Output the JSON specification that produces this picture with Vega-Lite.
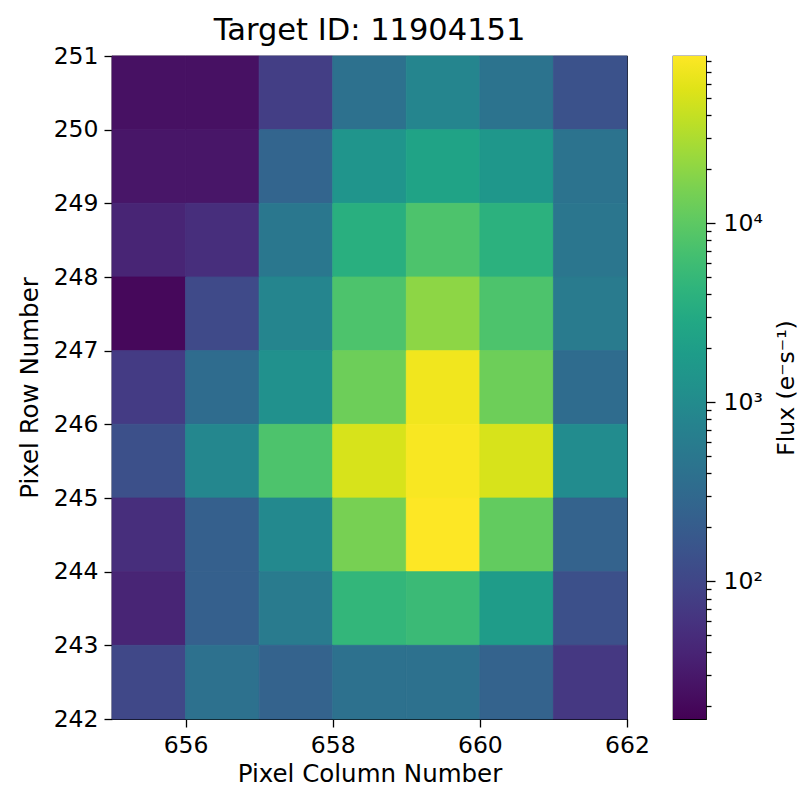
{
  "$schema": "https://vega.github.io/schema/vega-lite/v6.json",
  "padding": {"left": 16, "top": 14, "right": 2, "bottom": 2},
  "bounds": "flush",
  "spacing": 46,
  "config": {
    "view": {"stroke": "#000", "strokeWidth": 1.2},
    "font": "DejaVu Sans",
    "axis": {
      "domain": false, "grid": false,
      "tickColor": "#000", "tickWidth": 1.3, "tickSize": 8,
      "labelColor": "#000", "titleColor": "#000",
      "labelFont": "DejaVu Sans", "titleFont": "DejaVu Sans",
      "labelFontSize": 23.5, "titleFontSize": 24.5, "titleFontWeight": "normal",
      "labelPadding": 6, "labelFlush": false, "labelOverlap": false
    },
    "title": {"font": "DejaVu Sans", "fontSize": 30.5, "fontWeight": "normal", "color": "#000", "offset": -2}
  },
  "hconcat": [
    {
      "title": {"text": "Target ID: 11904151"},
      "width": 515,
      "height": 663,
      "data": {"values": [
        {"c": 655, "c2": 656, "r": 250, "r2": 251, "flux": 24},
        {"c": 656, "c2": 657, "r": 250, "r2": 251, "flux": 24},
        {"c": 657, "c2": 658, "r": 250, "r2": 251, "flux": 79},
        {"c": 658, "c2": 659, "r": 250, "r2": 251, "flux": 400},
        {"c": 659, "c2": 660, "r": 250, "r2": 251, "flux": 790},
        {"c": 660, "c2": 661, "r": 250, "r2": 251, "flux": 436},
        {"c": 661, "c2": 662, "r": 250, "r2": 251, "flux": 144},
        {"c": 655, "c2": 656, "r": 249, "r2": 250, "flux": 27},
        {"c": 656, "c2": 657, "r": 249, "r2": 250, "flux": 27},
        {"c": 657, "c2": 658, "r": 249, "r2": 250, "flux": 261},
        {"c": 658, "c2": 659, "r": 249, "r2": 250, "flux": 1435},
        {"c": 659, "c2": 660, "r": 249, "r2": 250, "flux": 2393},
        {"c": 660, "c2": 661, "r": 249, "r2": 250, "flux": 1563},
        {"c": 661, "c2": 662, "r": 249, "r2": 250, "flux": 436},
        {"c": 655, "c2": 656, "r": 248, "r2": 249, "flux": 40},
        {"c": 656, "c2": 657, "r": 248, "r2": 249, "flux": 52},
        {"c": 657, "c2": 658, "r": 248, "r2": 249, "flux": 500},
        {"c": 658, "c2": 659, "r": 248, "r2": 249, "flux": 3660},
        {"c": 659, "c2": 660, "r": 248, "r2": 249, "flux": 7890},
        {"c": 660, "c2": 661, "r": 248, "r2": 249, "flux": 3990},
        {"c": 661, "c2": 662, "r": 248, "r2": 249, "flux": 474},
        {"c": 655, "c2": 656, "r": 247, "r2": 248, "flux": 20},
        {"c": 656, "c2": 657, "r": 247, "r2": 248, "flux": 111},
        {"c": 657, "c2": 658, "r": 247, "r2": 248, "flux": 790},
        {"c": 658, "c2": 659, "r": 247, "r2": 248, "flux": 7890},
        {"c": 659, "c2": 660, "r": 247, "r2": 248, "flux": 20140},
        {"c": 660, "c2": 661, "r": 247, "r2": 248, "flux": 7890},
        {"c": 661, "c2": 662, "r": 247, "r2": 248, "flux": 562},
        {"c": 655, "c2": 656, "r": 246, "r2": 247, "flux": 73},
        {"c": 656, "c2": 657, "r": 246, "r2": 247, "flux": 337},
        {"c": 657, "c2": 658, "r": 246, "r2": 247, "flux": 1211},
        {"c": 658, "c2": 659, "r": 246, "r2": 247, "flux": 13000},
        {"c": 659, "c2": 660, "r": 246, "r2": 247, "flux": 72300},
        {"c": 660, "c2": 661, "r": 246, "r2": 247, "flux": 13000},
        {"c": 661, "c2": 662, "r": 246, "r2": 247, "flux": 337},
        {"c": 655, "c2": 656, "r": 245, "r2": 246, "flux": 132},
        {"c": 656, "c2": 657, "r": 245, "r2": 246, "flux": 870},
        {"c": 657, "c2": 658, "r": 245, "r2": 246, "flux": 7890},
        {"c": 658, "c2": 659, "r": 245, "r2": 246, "flux": 51400},
        {"c": 659, "c2": 660, "r": 245, "r2": 246, "flux": 80000},
        {"c": 660, "c2": 661, "r": 245, "r2": 246, "flux": 51400},
        {"c": 661, "c2": 662, "r": 245, "r2": 246, "flux": 1020},
        {"c": 655, "c2": 656, "r": 244, "r2": 245, "flux": 52},
        {"c": 656, "c2": 657, "r": 244, "r2": 245, "flux": 220},
        {"c": 657, "c2": 658, "r": 244, "r2": 245, "flux": 937},
        {"c": 658, "c2": 659, "r": 244, "r2": 245, "flux": 15000},
        {"c": 659, "c2": 660, "r": 244, "r2": 245, "flux": 85700},
        {"c": 660, "c2": 661, "r": 244, "r2": 245, "flux": 11090},
        {"c": 661, "c2": 662, "r": 244, "r2": 245, "flux": 240},
        {"c": 655, "c2": 656, "r": 243, "r2": 244, "flux": 40},
        {"c": 656, "c2": 657, "r": 243, "r2": 244, "flux": 220},
        {"c": 657, "c2": 658, "r": 243, "r2": 244, "flux": 562},
        {"c": 658, "c2": 659, "r": 243, "r2": 244, "flux": 4732},
        {"c": 659, "c2": 660, "r": 243, "r2": 244, "flux": 5610},
        {"c": 660, "c2": 661, "r": 243, "r2": 244, "flux": 1854},
        {"c": 661, "c2": 662, "r": 243, "r2": 244, "flux": 132},
        {"c": 655, "c2": 656, "r": 242, "r2": 243, "flux": 104},
        {"c": 656, "c2": 657, "r": 242, "r2": 243, "flux": 400},
        {"c": 657, "c2": 658, "r": 242, "r2": 243, "flux": 240},
        {"c": 658, "c2": 659, "r": 242, "r2": 243, "flux": 400},
        {"c": 659, "c2": 660, "r": 242, "r2": 243, "flux": 400},
        {"c": 660, "c2": 661, "r": 242, "r2": 243, "flux": 240},
        {"c": 661, "c2": 662, "r": 242, "r2": 243, "flux": 67}
      ]},
      "mark": {"type": "rect", "strokeWidth": 0.8},
      "encoding": {
        "x": {
          "field": "c", "type": "quantitative",
          "scale": {"domain": [655, 662], "nice": false, "zero": false},
          "axis": {"values": [656, 658, 660, 662], "title": "Pixel Column Number", "titlePadding": 6}
        },
        "x2": {"field": "c2"},
        "y": {
          "field": "r", "type": "quantitative",
          "scale": {"domain": [242, 251], "nice": false, "zero": false},
          "axis": {"values": [242, 243, 244, 245, 246, 247, 248, 249, 250, 251], "title": "Pixel Row Number", "titlePadding": 11}
        },
        "y2": {"field": "r2"},
        "color": {
          "field": "flux", "type": "quantitative",
          "scale": {"type": "log", "domain": [17, 85700], "scheme": "viridis"},
          "legend": null
        },
        "stroke": {
          "field": "flux", "type": "quantitative",
          "scale": {"type": "log", "domain": [17, 85700], "scheme": "viridis"},
          "legend": null
        }
      }
    },
    {
      "width": 33,
      "height": 663,
      "data": {"values": [{"lo": 17, "hi": 85700}]},
      "mark": {
        "type": "rect",
        "fill": {
          "gradient": "linear", "x1": 0, "y1": 1, "x2": 0, "y2": 0,
          "stops": [
            {"offset": 0.0, "color": "#440154"},
            {"offset": 0.05, "color": "#471365"},
            {"offset": 0.1, "color": "#482475"},
            {"offset": 0.15, "color": "#463480"},
            {"offset": 0.2, "color": "#414487"},
            {"offset": 0.25, "color": "#3b528b"},
            {"offset": 0.3, "color": "#355f8d"},
            {"offset": 0.35, "color": "#2f6c8e"},
            {"offset": 0.4, "color": "#2a788e"},
            {"offset": 0.45, "color": "#25848e"},
            {"offset": 0.5, "color": "#21918c"},
            {"offset": 0.55, "color": "#1e9c89"},
            {"offset": 0.6, "color": "#22a884"},
            {"offset": 0.65, "color": "#2fb47c"},
            {"offset": 0.7, "color": "#44bf70"},
            {"offset": 0.75, "color": "#5ec962"},
            {"offset": 0.8, "color": "#7ad151"},
            {"offset": 0.85, "color": "#9bd93c"},
            {"offset": 0.9, "color": "#bddf26"},
            {"offset": 0.95, "color": "#dfe318"},
            {"offset": 1.0, "color": "#fde725"}
          ]
        }
      },
      "encoding": {
        "y": {
          "field": "lo", "type": "quantitative",
          "scale": {"type": "log", "domain": [17, 85700], "nice": false},
          "axis": {
            "orient": "right",
            "values": [20, 30, 40, 50, 60, 70, 80, 90, 100, 200, 300, 400, 500, 600, 700, 800, 900, 1000, 2000, 3000, 4000, 5000, 6000, 7000, 8000, 9000, 10000, 20000, 30000, 40000, 50000, 60000, 70000, 80000],
            "labelExpr": "datum.value === 100 ? '10²' : datum.value === 1000 ? '10³' : datum.value === 10000 ? '10⁴' : ''",
            "tickSize": {"condition": {"test": "datum.value === 100 || datum.value === 1000 || datum.value === 10000", "value": 9}, "value": 5},
            "labelPadding": 8,
            "title": "Flux (e⁻s⁻¹)",
            "titleFontSize": 23.5,
            "titleAngle": 270,
            "titleBaseline": "top",
            "titlePadding": 12
          }
        },
        "y2": {"field": "hi"}
      }
    }
  ]
}
